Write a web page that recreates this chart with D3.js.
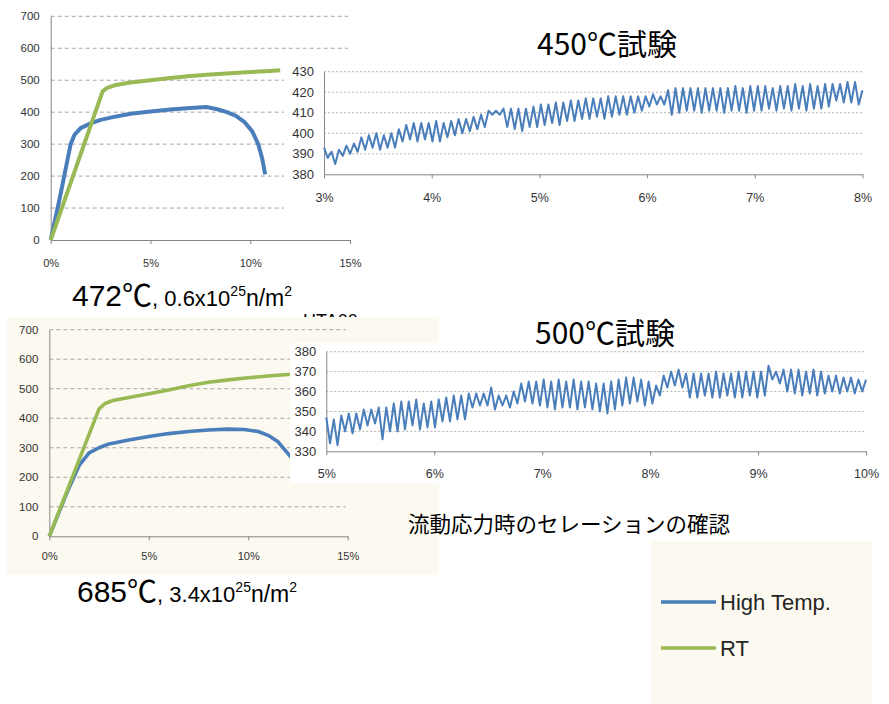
<!DOCTYPE html>
<html>
<head>
<meta charset="utf-8">
<script src="https://cdn.jsdelivr.net/npm/d3@7"></script>
<style>
body { margin: 0; background: #fff; }
svg { display: block; }
</style>
</head>
<body>
<svg id="fig" width="889" height="704"></svg>
<script>
// ---- main stress-strain curves (strain %, stress MPa) ----
const hot472Strain = [0, 0.45, 1.0, 1.2, 1.5, 2.0, 2.5, 3.0, 4.0, 5.0, 6.0, 7.0, 7.8, 8.3, 8.8, 9.3, 9.7, 10.1, 10.4, 10.6, 10.75]
const hot472Stress = [0, 130, 300, 330, 350, 365, 376, 383, 395, 402, 408, 413, 416, 410, 401, 388, 370, 340, 300, 255, 205]
const rt472Strain = [0, 2.6, 2.8, 3.2, 4, 5, 6, 7, 8, 9, 10, 11, 11.5]
const rt472Stress = [0, 465, 475, 484, 493, 500, 507, 513, 518, 522, 526, 529, 531]

const hot685Strain = [0, 0.9, 1.5, 2.0, 2.5, 3.0, 4.0, 5.0, 6.0, 7.0, 8.0, 9.0, 9.8, 10.5, 11.0, 11.5, 12.0, 12.5]
const hot685Stress = [0, 150, 240, 283, 300, 313, 326, 338, 348, 355, 360, 363, 362, 355, 342, 320, 280, 240]
const rt685Strain = [0, 2.5, 2.8, 3.2, 4, 5, 6, 7, 8, 9, 10, 11, 12, 13]
const rt685Stress = [0, 432, 450, 460, 470, 483, 496, 510, 522, 530, 537, 543, 548, 552]

// ---- serrated flow, sampled evenly between start and end strain ----
const serr450Range = [3, 8]
const serr450 = [393,388, 391,385, 392,389, 394,390, 395,391,
  398,392, 399,393, 400,392, 399,393, 400,393,
  402,396, 404,397, 405,396, 405,397, 405,396,
  406,396, 405,398, 406,399,
  407,400, 407,401, 408,402, 409,403,
  411,409, 411,409,
  412,403, 412,402, 412,401, 412,403, 413,403,
  414,404, 414,405, 415,404, 415,406, 416,406, 416,407,
  417,407, 417,408, 417,407, 418,408, 418,409, 418,409, 418,410, 418,411,
  418,413, 419,414, 418,414,
  421,409, 422,410, 422,411,
  422,411, 422,410, 422,411, 422,411, 422,410, 422,411, 423,411, 422,410, 423,411,
  423,411, 423,412, 422,411, 423,412, 423,411, 424,412, 423,411, 424,412, 423,412, 424,413,
  424,416, 424,415, 425,415, 425,414, 421]

const serr500Range = [5, 10]
const serr500 = [347,334, 346,333,
  348,340, 349,339, 349,341,
  351,343, 351,344,
  352,336,
  352,340, 354,340, 355,341, 355,343,
  356,341, 354,342, 355,342,
  356,345, 357,345, 358,346, 358,346,
  359,352, 359,353, 359,353,
  362,351,
  358,353, 358,352, 360,354,
  364,355, 365,354, 365,353,
  366,352, 365,351, 366,352, 365,352, 366,351, 365,352, 365,351, 364,350,
  364,349, 365,351,
  366,353, 367,354, 367,355, 366,353, 365,354,
  363,358,
  368,362, 370,363, 371,362,
  369,357, 369,357, 369,358, 369,357, 370,357, 369,358, 369,357, 370,357, 370,358, 370,357, 370,358,
  373,366,
  370,364, 371,360, 371,359, 371,358, 370,359, 371,358, 370,359,
  368,360, 368,359, 367,360, 367,359, 366,360, 366]

const stressTicks = [0, 100, 200, 300, 400, 500, 600, 700]
const strainTicks = [0, 5, 10, 15]
const legendLabels = ['High Temp.', 'RT']

const BLUE = '#4a7ebb'
const GREEN = '#98b954'
const legendColors = [BLUE, GREEN]

const svg = d3.select('#fig')
const labelFont = '"Liberation Sans", Arial, sans-serif'
const jpFont = '"Noto Sans CJK JP", "Noto Sans", sans-serif'

function styleAxis(g, size) {
	g.select('.domain').attr('stroke', '#868686')
	g.selectAll('line').attr('stroke', '#868686')
	g.selectAll('text').attr('fill', '#333').attr('font-size', size).attr('font-family', labelFont)
}

function mainChart(o) {
	let x = d3.scaleLinear().domain([0, 15]).range([o.x0, o.x1])
	let y = d3.scaleLinear().domain([0, 700]).range([o.y0, o.y1])
	let g = svg.append('g')

	g.selectAll('.grid')
		.data(stressTicks.slice(1))
		.enter()
		.append('line')
		.attr('x1', x(0)).attr('x2', x(14.9))
		.attr('y1', d => y(d)).attr('y2', d => y(d))
		.attr('stroke', '#a6a6a6')
		.attr('stroke-dasharray', '4,3')

	let yG = g.append('g')
		.attr('transform', `translate(${x(0)},0)`)
		.call(d3.axisLeft(y).tickValues(stressTicks).tickSize(0).tickSizeOuter(0).tickPadding(11))
	styleAxis(yG, 11.5)

	let xG = g.append('g')
		.attr('transform', `translate(0,${y(0)})`)
		.call(d3.axisBottom(x).tickValues(strainTicks).tickSize(4).tickSizeOuter(0).tickPadding(o.xPad).tickFormat(d => d + '%'))
	styleAxis(xG, 11)

	let line = d3.line().x(d => x(d[0])).y(d => y(d[1]))
	o.series.forEach(function(s) {
		g.append('path')
			.datum(d3.zip(s.strain, s.stress))
			.attr('d', line)
			.attr('fill', 'none')
			.attr('stroke', s.color)
			.attr('stroke-width', o.width)
			.attr('stroke-linejoin', 'round')
	})
}

function insetChart(o) {
	let g = svg.append('g')
	g.append('rect')
		.attr('x', o.box[0]).attr('y', o.box[1])
		.attr('width', o.box[2]).attr('height', o.box[3])
		.attr('fill', '#fff')

	let x = d3.scaleLinear().domain(o.range).range([o.x0, o.x1])
	let y = d3.scaleLinear().domain(o.yDomain).range([o.y0, o.y1])
	let yTicks = d3.range(o.yDomain[0], o.yDomain[1] + 1, 10)
	let xTicks = d3.range(o.range[0], o.range[1] + 1, 1)

	g.selectAll('.grid')
		.data(yTicks.slice(1))
		.enter()
		.append('line')
		.attr('x1', x(o.range[0])).attr('x2', x(o.range[1]))
		.attr('y1', d => y(d)).attr('y2', d => y(d))
		.attr('stroke', '#b3b3b3')
		.attr('stroke-dasharray', '2,2')

	let yG = g.append('g')
		.attr('transform', `translate(${x(o.range[0])},0)`)
		.call(d3.axisLeft(y).tickValues(yTicks).tickSize(0).tickSizeOuter(0).tickPadding(10))
	styleAxis(yG, 13)

	let xG = g.append('g')
		.attr('transform', `translate(0,${y(o.yDomain[0])})`)
		.call(d3.axisBottom(x).tickValues(xTicks).tickSize(4).tickSizeOuter(0).tickPadding(o.xPad).tickFormat(d => d + '%'))
	styleAxis(xG, 12.5)

	let n = o.values.length
	let step = (o.range[1] - o.range[0]) / (n - 1)
	g.append('path')
		.datum(o.values)
		.attr('d', d3.line().x((d, i) => x(o.range[0] + i * step)).y(d => y(d)))
		.attr('fill', 'none')
		.attr('stroke', BLUE)
		.attr('stroke-width', 2)
		.attr('stroke-linejoin', 'round')
}

function caption(xp, yp, big, mid) {
	let t = svg.append('text')
		.attr('x', xp).attr('y', yp)
		.attr('font-family', '"Liberation Sans", Arial, "Noto Sans CJK JP", sans-serif')
		.attr('fill', '#000')
	t.append('tspan').attr('font-size', 30).text(big)
	t.append('tspan').attr('font-size', 22).text(mid)
	t.append('tspan').attr('font-size', 14).attr('dy', -10).text('25')
	t.append('tspan').attr('font-size', 23).attr('dy', 10).text('n/m')
	t.append('tspan').attr('font-size', 14).attr('dy', -10).text('2')
}

// ---- top: 472C ----
mainChart({x0: 50.7, x1: 350, y0: 240, y1: 16.3, xPad: 15, width: 4,
	series: [
		{strain: hot472Strain, stress: hot472Stress, color: BLUE},
		{strain: rt472Strain, stress: rt472Stress, color: GREEN}
	]})
caption(72, 306, '472℃', ', 0.6x10')

svg.append('text')
	.attr('x', 607).attr('y', 55)
	.attr('text-anchor', 'middle')
	.attr('font-family', jpFont)
	.attr('font-size', 30)
	.text('450℃試験')

insetChart({box: [284, 58, 600, 156], range: serr450Range, yDomain: [380, 430],
	x0: 324, x1: 862.5, y0: 174.3, y1: 71.7, xPad: 15, values: serr450})

// ---- bottom: 685C ----
svg.append('text')
	.attr('x', 303).attr('y', 327)
	.attr('font-family', labelFont)
	.attr('font-size', 18)
	.text('HTA00')

svg.append('rect')
	.attr('x', 7).attr('y', 317).attr('width', 432).attr('height', 258)
	.attr('fill', '#fcf9f0')

mainChart({x0: 49.3, x1: 347.7, y0: 536.3, y1: 329.7, xPad: 12, width: 3.6,
	series: [
		{strain: hot685Strain, stress: hot685Stress, color: BLUE},
		{strain: rt685Strain, stress: rt685Stress, color: GREEN}
	]})
caption(77, 602, '685℃', ', 3.4x10')

insetChart({box: [290, 343, 600, 140], range: serr500Range, yDomain: [330, 380],
	x0: 326.3, x1: 866, y0: 451.3, y1: 351.7, xPad: 14, values: serr500})

svg.append('text')
	.attr('x', 605).attr('y', 344)
	.attr('text-anchor', 'middle')
	.attr('font-family', jpFont)
	.attr('font-size', 30)
	.text('500℃試験')

svg.append('text')
	.attr('x', 408).attr('y', 532)
	.attr('font-family', jpFont)
	.attr('font-size', 21.5)
	.text('流動応力時のセレーションの確認')

// ---- legend ----
let lg = svg.append('g')
lg.append('rect')
	.attr('x', 651).attr('y', 541).attr('width', 221).attr('height', 163)
	.attr('fill', '#fcf9f0')

let rows = lg.selectAll('.row')
	.data(legendLabels)
	.enter()
	.append('g')
	.attr('transform', (d, i) => `translate(661,${602 + i * 46})`)

rows.append('line')
	.attr('x1', 0).attr('x2', 55)
	.attr('stroke', (d, i) => legendColors[i])
	.attr('stroke-width', 3.5)

rows.append('text')
	.attr('x', 59).attr('y', 8)
	.attr('font-family', labelFont)
	.attr('font-size', 22)
	.attr('fill', '#262626')
	.text(d => d)
</script>
</body>
</html>
